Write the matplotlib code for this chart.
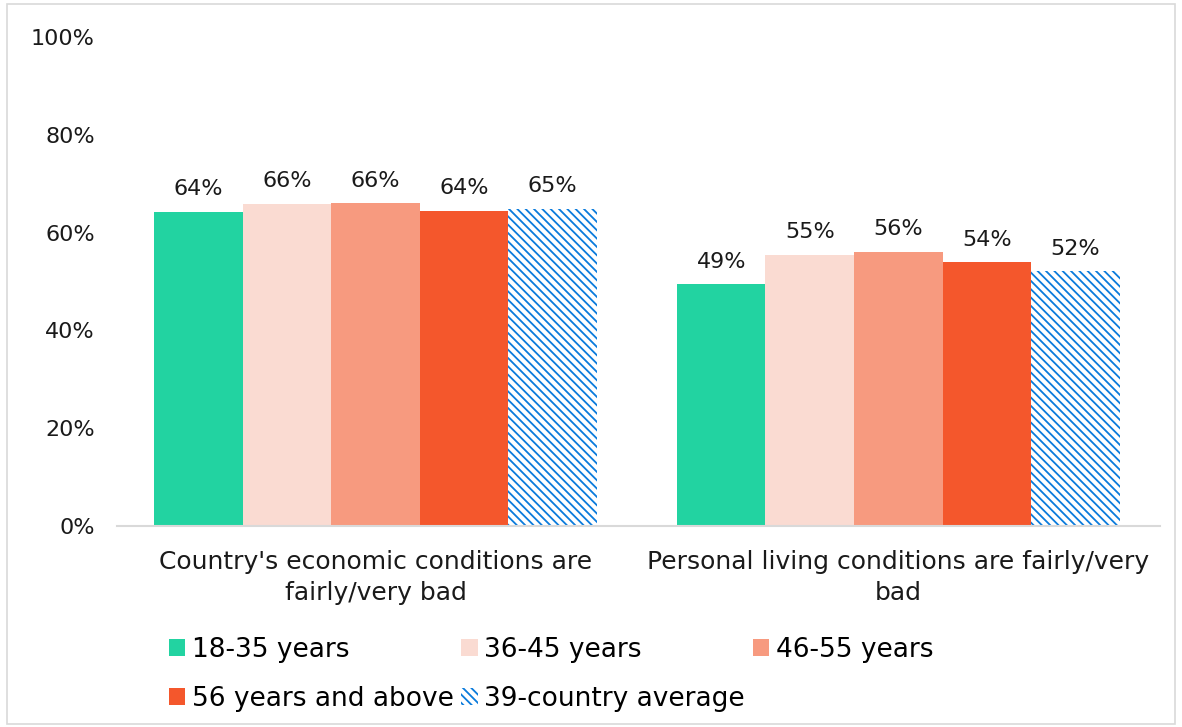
import numpy as np
import matplotlib.pyplot as plt
from matplotlib.patches import Rectangle

# Chart data
categories = ["Country's economic conditions are\nfairly/very bad",
              "Personal living conditions are fairly/very\nbad"]
series_names = ["18-35 years", "36-45 years", "46-55 years",
                "56 years and above", "39-country average"]
age_18_35 = [64.2, 49.4]
age_36_45 = [65.9, 55.4]
age_46_55 = [66.0, 56.0]
age_56_plus = [64.5, 53.9]
country_avg = [64.8, 52.1]
yticks = [0, 20, 40, 60, 80, 100]

series = [age_18_35, age_36_45, age_46_55, age_56_plus, country_avg]
colors = ["#22D3A1", "#FADBD2", "#F79A7F", "#F4572C", "white"]

plt.rcParams['font.family'] = ['DejaVu Sans']
plt.rcParams['hatch.linewidth'] = 1.3

fig = plt.figure(figsize=(11.82, 7.27), dpi=100)
ax = fig.add_axes([0.099, 0.2765, 0.882, 0.6725])

x = np.arange(len(categories))
width = 0.1694
handles = []
for i, (vals, col) in enumerate(zip(series, colors)):
    pos = x + (i - 2) * width
    if i == 4:
        bars = ax.bar(pos, vals, width, facecolor='white', edgecolor='#0A7BDC',
                      hatch='\\\\\\\\', linewidth=0, label=series_names[i])
    else:
        bars = ax.bar(pos, vals, width, color=col, linewidth=0, label=series_names[i])
    handles.append(bars)
    for p, v in zip(pos, vals):
        ax.text(p, v + 2.6, f"{v:.0f}%", ha='center', va='bottom', fontsize=16, color='#1a1a1a')

ax.set_xlim(-0.495, 1.5)
ax.set_ylim(0, 100)
ax.set_yticks(yticks)
ax.set_yticklabels([f"{t}%" for t in yticks], fontsize=16, color='#1a1a1a')
ax.set_xticks(x)
ax.set_xticklabels(categories, fontsize=18, color='#1a1a1a', linespacing=1.4)
ax.tick_params(length=0)
ax.tick_params(axis='x', pad=17)
ax.tick_params(axis='y', pad=16)
for s in ['top', 'right', 'left']:
    ax.spines[s].set_visible(False)
ax.spines['bottom'].set_color('#D9D9D9')
ax.spines['bottom'].set_linewidth(1.5)

# legend filled row by row
order = [0, 3, 1, 4, 2]
fig.legend([handles[k] for k in order], [series_names[k] for k in order],
           loc='upper left', bbox_to_anchor=(0.127, 0.149), ncol=3, frameon=False,
           fontsize=19, handlelength=0.62, handleheight=0.62, handletextpad=0.25,
           columnspacing=0.3, labelspacing=0.85, borderpad=0.2)

# outer border
fig.patches.append(Rectangle((0.006, 0.004), 0.988, 0.99, transform=fig.transFigure,
                             fill=False, edgecolor='#D9D9D9', linewidth=1.2))

fig.savefig('out.png', dpi=100)
